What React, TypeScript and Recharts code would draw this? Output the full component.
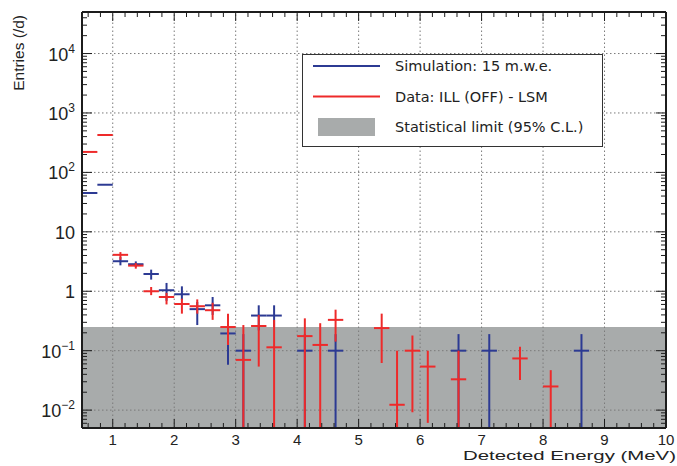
import React from "react";
import {
  ScatterChart,
  Scatter,
  XAxis,
  YAxis,
  ErrorBar,
  ReferenceArea,
  ReferenceLine,
  Legend,
  Label,
} from "recharts";

// axis ranges
const X_MIN = 0.5;
const X_MAX = 10;
const Y_MIN = 0.005;
const Y_MAX = 50000;
const STAT_LIMIT = 0.25; // 95% C.L. band top
const BIN_HALF = 0.125;

const X_TICKS = [1, 2, 3, 4, 5, 6, 7, 8, 9, 10];
const Y_TICKS = [0.01, 0.1, 1, 10, 100, 1000, 10000];
const Y_TICK_LABELS = [
  ["10", "\u22122"],
  ["10", "\u22121"],
  ["1", ""],
  ["10", ""],
  ["10", "2"],
  ["10", "3"],
  ["10", "4"],
];

// Simulation: 15 m.w.e. (blue)
const SIM_E = [0.625, 0.875, 1.125, 1.375, 1.625, 1.875, 2.125, 2.375, 2.625, 2.875, 3.125, 3.375, 3.625, 4.125, 4.625, 6.625, 7.125, 8.625];
const SIM_VAL = [45, 62, 3.2, 2.85, 1.95, 1.04, 0.89, 0.5, 0.58, 0.195, 0.1, 0.39, 0.39, 0.1, 0.1, 0.1, 0.1, 0.1];
const SIM_LOW = [45, 62, 2.73, 2.55, 1.57, 0.69, 0.71, 0.27, 0.4, 0.058, 0.001, 0.22, 0.25, 0.001, 0.001, 0.001, 0.001, 0.001];
const SIM_HIGH = [45, 62, 3.76, 3.18, 2.31, 1.38, 1.21, 0.66, 0.8, 0.32, 0.19, 0.58, 0.58, 0.19, 0.19, 0.19, 0.19, 0.19];

// Data: ILL (OFF) - LSM (red)
const DATA_E = [0.625, 0.875, 1.125, 1.375, 1.625, 1.875, 2.125, 2.375, 2.625, 2.875, 3.125, 3.375, 3.625, 4.125, 4.375, 4.625, 5.375, 5.625, 5.875, 6.125, 6.625, 7.625, 8.125];
const DATA_VAL = [221, 426, 4.1, 2.7, 1.0, 0.8, 0.61, 0.56, 0.48, 0.25, 0.07, 0.26, 0.114, 0.176, 0.125, 0.33, 0.24, 0.0123, 0.1, 0.054, 0.033, 0.074, 0.025];
const DATA_LOW = [221, 426, 3.39, 2.4, 0.86, 0.6, 0.42, 0.42, 0.33, 0.125, 0.001, 0.054, 0.001, 0.001, 0.001, 0.142, 0.062, 0.001, 0.0092, 0.0061, 0.001, 0.032, 0.001];
const DATA_HIGH = [221, 426, 4.56, 2.98, 1.18, 0.94, 0.75, 0.73, 0.64, 0.42, 0.27, 0.4, 0.33, 0.35, 0.29, 0.49, 0.42, 0.1, 0.18, 0.1, 0.1, 0.117, 0.047];

const LEGEND_ITEMS = [
  { label: "Simulation: 15 m.w.e.", kind: "line", color: "#2c3a93" },
  { label: "Data: ILL (OFF) - LSM", kind: "line", color: "#ee2a2a" },
  { label: "Statistical limit (95% C.L.)", kind: "box", color: "#a8abab" },
];

const BLUE = "#2c3a93";
const RED = "#ee2a2a";
const FRAME = "#1c1c1c";

// tick mark positions for the inward ticks (majors + minors)
const X_MARKS: number[] = [];
for (let i = 3; i <= 50; i++) X_MARKS.push(Number((i * 0.2).toFixed(2)));
const Y_MARKS: number[] = [];
for (let e = -3; e <= 4; e++) {
  for (let m = 1; m <= 9; m++) {
    const v = Number((m * Math.pow(10, e)).toPrecision(3));
    if (v >= Y_MIN && v <= Y_MAX) Y_MARKS.push(v);
  }
}

const isIntX = (v: number) => Math.abs(v - Math.round(v)) < 1e-6;
const isDecade = (v: number) => {
  const l = Math.log10(v);
  return Math.abs(l - Math.round(l)) < 1e-6;
};

function build(es: number[], vals: number[], lows: number[], highs: number[]) {
  return es.map((x, i) => ({
    x,
    y: vals[i],
    ex: [BIN_HALF, BIN_HALF],
    ey: [vals[i] - Math.max(lows[i], Y_MIN), highs[i] - vals[i]],
  }));
}

const simData = build(SIM_E, SIM_VAL, SIM_LOW, SIM_HIGH);
const dataData = build(DATA_E, DATA_VAL, DATA_LOW, DATA_HIGH);

function TickMark(props: any) {
  const { x, y, payload, side } = props;
  const horiz = side === "top" || side === "bottom";
  const major = horiz ? isIntX(payload.value) : isDecade(payload.value);
  const len = major ? (horiz ? 9 : 10) : 5;
  let x2 = x;
  let y2 = y;
  if (side === "bottom") y2 = y - len;
  if (side === "top") y2 = y + len;
  if (side === "left") x2 = x + len;
  if (side === "right") x2 = x - len;
  return <line x1={x} y1={y} x2={x2} y2={y2} stroke={FRAME} strokeWidth={1} />;
}

function XLabelTick(props: any) {
  const { x, y, payload } = props;
  return (
    <text x={x} y={y + 17} textAnchor="middle" fontSize={15} fill="#222" fontFamily="'Liberation Sans', Arial, sans-serif">
      {payload.value}
    </text>
  );
}

function YLabelTick(props: any) {
  const { x, y, payload } = props;
  const idx = Y_TICKS.indexOf(payload.value);
  const lab = Y_TICK_LABELS[idx] || [String(payload.value), ""];
  return (
    <text x={x} y={y + 7} textAnchor="end" fontSize={18} fill="#222" fontFamily="'Liberation Sans', Arial, sans-serif">
      {lab[0]}
      {lab[1] ? (
        <tspan dy={-8} fontSize={12}>
          {lab[1]}
        </tspan>
      ) : null}
    </text>
  );
}

function LegendBox() {
  return (
    <div
      style={{
        width: 301,
        height: 93,
        boxSizing: "border-box",
        border: "1.5px solid #333",
        background: "#fff",
      }}
    >
      <svg width={298} height={90} style={{ display: "block" }}>
        {LEGEND_ITEMS.map((it, i) => {
          const cy = 11 + i * 30.5;
          return (
            <g key={it.label}>
              {it.kind === "line" ? (
                <line x1={10} x2={77} y1={cy} y2={cy} stroke={it.color} strokeWidth={2} />
              ) : (
                <rect x={15} y={cy - 9} width={57} height={18} fill={it.color} />
              )}
              <text
                x={92}
                y={cy + 5}
                fontSize={14.5}
                fill="#222"
                fontFamily="'DejaVu Sans', Verdana, sans-serif"
              >
                {it.label}
              </text>
            </g>
          );
        })}
      </svg>
    </div>
  );
}

export default function App() {
  return (
    <div style={{ position: "absolute", left: 0, top: 0, width: 677, height: 466, background: "#fff" }}>
      <ScatterChart width={677} height={466} margin={{ top: 12, right: 11, bottom: 0, left: 0 }}>
        {/* main axes with labels */}
        <XAxis
          xAxisId="x"
          dataKey="x"
          type="number"
          domain={[X_MIN, X_MAX]}
          allowDataOverflow
          ticks={X_TICKS}
          interval={0}
          height={38}
          tickSize={0}
          tickMargin={0}
          tickLine={false}
          axisLine={{ stroke: FRAME, strokeWidth: 2 }}
          tick={<XLabelTick />}
        >
          <Label
            content={(p: any) => {
              const vb = p.viewBox;
              return (
                <text
                  x={vb.x + vb.width + 10}
                  y={vb.y + vb.height - 6}
                  textAnchor="end"
                  fontSize={13.5}
                  fill="#222"
                  textLength={213}
                  lengthAdjust="spacingAndGlyphs"
                  fontFamily="'Liberation Sans', Arial, sans-serif"
                >
                  Detected Energy (MeV)
                </text>
              );
            }}
          />
        </XAxis>
        <YAxis
          yAxisId="y"
          dataKey="y"
          type="number"
          scale="log"
          domain={[Y_MIN, Y_MAX]}
          allowDataOverflow
          ticks={Y_TICKS}
          interval={0}
          width={82}
          tickSize={0}
          tickMargin={7}
          tickLine={false}
          axisLine={{ stroke: FRAME, strokeWidth: 2 }}
          tick={<YLabelTick />}
        >
          <Label
            content={(p: any) => {
              const vb = p.viewBox;
              const ax = vb.x + 24;
              const ay = vb.y + 3;
              return (
                <text
                  x={ax}
                  y={ay}
                  transform={`rotate(-90 ${ax} ${ay})`}
                  textAnchor="end"
                  fontSize={15.5}
                  fill="#222"
                  fontFamily="'Liberation Sans', Arial, sans-serif"
                >
                  Entries (/d)
                </text>
              );
            }}
          />
        </YAxis>

        {/* inward tick marks on all four sides */}
        <XAxis xAxisId="xb" dataKey="x" type="number" domain={[X_MIN, X_MAX]} allowDataOverflow ticks={X_MARKS} interval={0} mirror height={1} tickSize={0} tickMargin={0} tickLine={false} axisLine={false} tick={(p: any) => <TickMark {...p} side="bottom" />} />
        <XAxis xAxisId="xt" dataKey="x" orientation="top" type="number" domain={[X_MIN, X_MAX]} allowDataOverflow ticks={X_MARKS} interval={0} mirror height={1} tickSize={0} tickMargin={0} tickLine={false} axisLine={{ stroke: FRAME, strokeWidth: 2 }} tick={(p: any) => <TickMark {...p} side="top" />} />
        <YAxis yAxisId="yl" dataKey="y" type="number" scale="log" domain={[Y_MIN, Y_MAX]} allowDataOverflow ticks={Y_MARKS} interval={0} mirror width={1} tickSize={0} tickMargin={0} tickLine={false} axisLine={false} tick={(p: any) => <TickMark {...p} side="left" />} />
        <YAxis yAxisId="yr" dataKey="y" orientation="right" type="number" scale="log" domain={[Y_MIN, Y_MAX]} allowDataOverflow ticks={Y_MARKS} interval={0} mirror width={1} tickSize={0} tickMargin={0} tickLine={false} axisLine={{ stroke: FRAME, strokeWidth: 2 }} tick={(p: any) => <TickMark {...p} side="right" />} />

        {/* statistical limit band */}
        <ReferenceArea xAxisId="x" yAxisId="y" x1={X_MIN} x2={X_MAX} y1={Y_MIN} y2={STAT_LIMIT} fill="#a8abab" fillOpacity={1} stroke="none" />

        {/* dotted grid */}
        {X_TICKS.filter((v) => v < X_MAX).map((v) => (
          <ReferenceLine key={`gx${v}`} xAxisId="x" yAxisId="y" x={v} stroke="#7a7a7a" strokeWidth={1} strokeDasharray="1.5 2.5" />
        ))}
        {Y_TICKS.map((v) => (
          <ReferenceLine key={`gy${v}`} xAxisId="x" yAxisId="y" y={v} stroke="#7a7a7a" strokeWidth={1} strokeDasharray="1.5 2.5" />
        ))}

        <Scatter name="Simulation: 15 m.w.e." data={simData} xAxisId="x" yAxisId="y" fill={BLUE} shape={() => <g />} isAnimationActive={false}>
          <ErrorBar dataKey="ex" direction="x" width={0} stroke={BLUE} strokeWidth={2} isAnimationActive={false} />
          <ErrorBar dataKey="ey" direction="y" width={0} stroke={BLUE} strokeWidth={2} isAnimationActive={false} />
        </Scatter>
        <Scatter name="Data: ILL (OFF) - LSM" data={dataData} xAxisId="x" yAxisId="y" fill={RED} shape={() => <g />} isAnimationActive={false}>
          <ErrorBar dataKey="ex" direction="x" width={0} stroke={RED} strokeWidth={2} isAnimationActive={false} />
          <ErrorBar dataKey="ey" direction="y" width={0} stroke={RED} strokeWidth={2} isAnimationActive={false} />
        </Scatter>

        <Legend
          layout="horizontal"
          verticalAlign="middle"
          align="center"
          wrapperStyle={{ position: "absolute", left: 302, top: 54, width: 301, height: 93 }}
          content={() => <LegendBox />}
        />
      </ScatterChart>
    </div>
  );
}
